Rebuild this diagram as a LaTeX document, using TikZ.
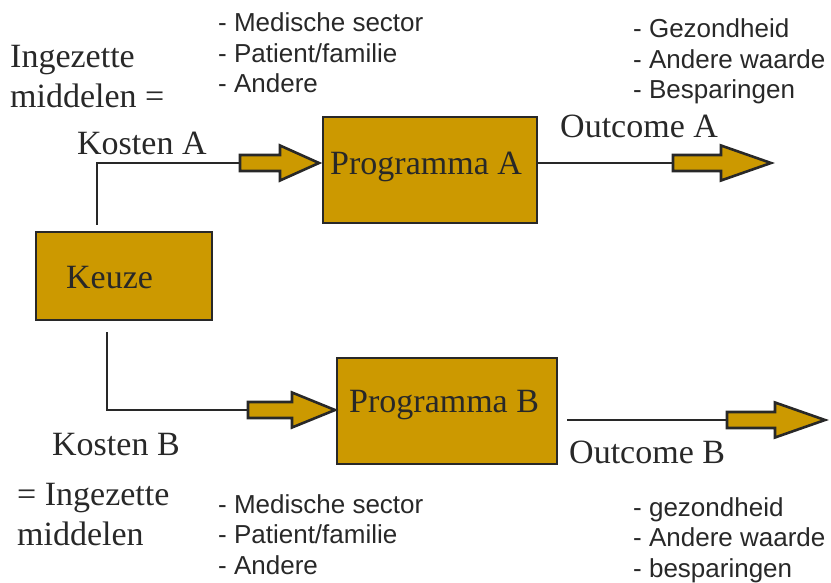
\documentclass[tikz,border=0pt]{standalone}
\usepackage{fontspec}
\setmainfont{Liberation Serif}
\newfontfamily\sansf{Liberation Sans}
\definecolor{gold}{RGB}{204,153,0}
\definecolor{ink}{RGB}{40,40,40}
\tikzset{
  boxsty/.style={draw=ink, line width=2.8pt, fill=gold, inner sep=0pt},
  serif/.style={font=\fontsize{34}{40}\selectfont, text=ink, inner sep=0pt, anchor=base west},
  sanslist/.style={font=\sansf\fontsize{26}{30.5}\selectfont, text=ink, inner sep=0pt, anchor=base west, align=left},
  serifml/.style={font=\fontsize{34}{40}\selectfont, text=ink, inner sep=0pt, anchor=base west, align=left},
  wire/.style={draw=ink, line width=2.6pt},
  arrowsty/.style={draw=ink, line width=2.6pt, fill=gold, line join=miter},
}
\newcommand\barrow[3]{% start coordinate, shaft length, head length
  \draw[arrowsty] (#1) ++(0,-8) -- ++(#2,0) -- ++(0,-9.5) -- ++(#3,17.5) -- ++(-#3,17.5) -- ++(0,-9.5) -- ++(-#2,0) -- cycle;}
\begin{document}
\begin{tikzpicture}[x=1pt,y=-1pt]
\useasboundingbox (0,0) rectangle (831,583);
% boxes
\node[boxsty, minimum width=176pt, minimum height=88pt] (keuze) at (124,276) {};
\node[serif] (keuzet) at (66,288) {Keuze};
\node[boxsty, minimum width=214pt, minimum height=106pt] (progA) at (430,170) {};
\node[serif] (progAt) at (330,175) {Programma A};
\node[boxsty, minimum width=220pt, minimum height=106pt] (progB) at (447,411) {};
\node[serif] (progBt) at (349,412) {Programma B};
% coordinates
\coordinate (kA) at (97,225);
\coordinate (a1) at (240,163);
\coordinate (a2) at (673,163);
\coordinate (kB) at (107,332);
\coordinate (b1) at (248,410);
\coordinate (ob) at (567,420);
\coordinate (b2) at (727,420);
% wires
\draw[wire] (kA) |- (a1);
\draw[wire] (progA.east |- a2) -- (a2);
\draw[wire] (kB) |- (b1);
\draw[wire] (ob) -- (b2);
% block arrows
\barrow{a1}{40}{39}
\barrow{a2}{48}{50}
\barrow{b1}{44}{43}
\barrow{b2}{48}{50}
% labels (multi-line nodes anchored at the baseline of their last line)
\node[serifml] (ingA) at (10,108) {Ingezette\\middelen =};
\node[serif] (kostA) at (77,155) {Kosten A};
\node[serif] (outA) at (560,138) {Outcome A};
\node[serif] (kostB) at (52,455) {Kosten B};
\node[serif] (outB) at (569,463) {Outcome B};
\node[serifml] (ingB) at (17,545) {= Ingezette\\middelen};
\node[sanslist] (listA) at (218,93) {- Medische sector\\- Patient/familie\\- Andere};
\node[sanslist] (listOA) at (633,99) {- Gezondheid\\- Andere waarde\\- Besparingen};
\node[sanslist] (listB) at (218,574) {- Medische sector\\- Patient/familie\\- Andere};
\node[sanslist] (listOB) at (633,577) {- gezondheid\\- Andere waarde\\- besparingen};
\end{tikzpicture}
\end{document}
